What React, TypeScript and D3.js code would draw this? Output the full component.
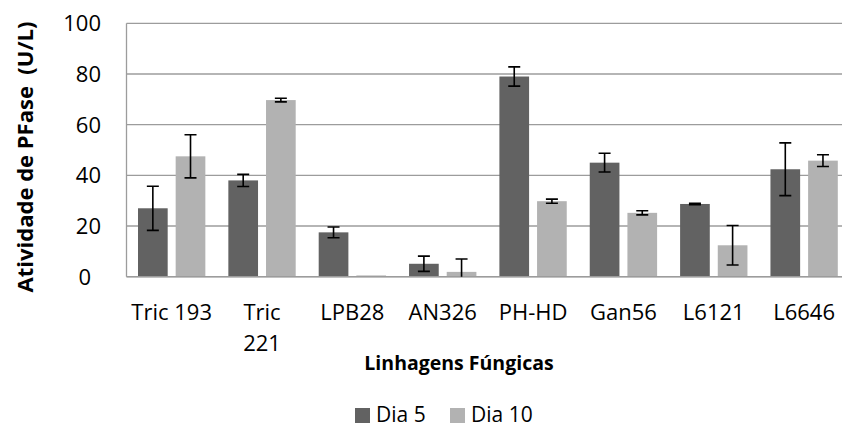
import React from "react";
import * as d3 from "d3";

// Fungal strain PFase activity, day 5 vs day 10, mean ± error
const categories = ["Tric 193", "Tric 221", "LPB28", "AN326", "PH-HD", "Gan56", "L6121", "L6646"];
const categoryLines = [["Tric 193"], ["Tric", "221"], ["LPB28"], ["AN326"], ["PH-HD"], ["Gan56"], ["L6121"], ["L6646"]];
const seriesNames = ["Dia 5", "Dia 10"];
const dia5 = [27, 38, 17.5, 5.1, 79, 45, 28.7, 42.4];
const dia5Err = [8.7, 2.4, 2.1, 3, 3.8, 3.7, 0.3, 10.4];
const dia10 = [47.5, 69.7, 0.5, 1.9, 29.8, 25.2, 12.4, 45.8];
const dia10Err = [8.5, 0.7, 0, 5.1, 0.8, 0.8, 7.8, 2.3];
const yTicks = [0, 20, 40, 60, 80, 100];

const W = 842;
const H = 428;
const plotLeft = 126.5;
const plotRight = 849.3;
const plotTop = 23.3;
const plotBottom = 276.7;
const colors = ["#626262", "#b2b2b2"];
const font = "'Open Sans', sans-serif";

export default function App() {
  const x0 = d3.scaleBand<string>().domain(categories).range([plotLeft, plotRight]);
  const x1 = d3
    .scaleBand<string>()
    .domain(seriesNames)
    .range([11.5, x0.bandwidth() - 11.5])
    .paddingInner(0.212);
  const y = d3.scaleLinear().domain([0, 100]).range([plotBottom, plotTop]);

  const values = [dia5, dia10];
  const errors = [dia5Err, dia10Err];
  const capHalf = 6;

  return (
    <svg
      width={W}
      height={H}
      style={{ position: "absolute", left: 0, top: 0, display: "block", background: "#fff" }}
      fontFamily={font}
    >
      <defs>
        <clipPath id="plotClip">
          <rect x={plotLeft} y={plotTop - 10} width={plotRight - plotLeft} height={plotBottom - plotTop + 10} />
        </clipPath>
      </defs>

      {/* gridlines */}
      {yTicks.map((t) => (
        <line
          key={"g" + t}
          x1={plotLeft}
          x2={plotRight}
          y1={y(t)}
          y2={y(t)}
          stroke="#9c9c9c"
          strokeWidth={1.3}
        />
      ))}
      <line x1={plotLeft} x2={plotLeft} y1={plotTop} y2={plotBottom} stroke="#9c9c9c" strokeWidth={1.3} />

      {/* bars */}
      {values.map((vals, si) =>
        vals.map((v, ci) => (
          <rect
            key={"b" + si + "-" + ci}
            x={(x0(categories[ci]) as number) + (x1(seriesNames[si]) as number)}
            y={y(v)}
            width={x1.bandwidth()}
            height={plotBottom - y(v)}
            fill={colors[si]}
          />
        ))
      )}

      <line x1={plotLeft} x2={plotRight} y1={plotBottom} y2={plotBottom} stroke="#9c9c9c" strokeWidth={1.5} />

      {/* error bars */}
      <g clipPath="url(#plotClip)" stroke="#000" strokeWidth={1.6}>
        {values.map((vals, si) =>
          vals.map((v, ci) => {
            const e = errors[si][ci];
            if (!e) return null;
            const cx = (x0(categories[ci]) as number) + (x1(seriesNames[si]) as number) + x1.bandwidth() / 2;
            const yHi = y(v + e);
            const yLo = y(v - e);
            return (
              <g key={"e" + si + "-" + ci}>
                <line x1={cx} x2={cx} y1={yHi} y2={yLo} />
                <line x1={cx - capHalf} x2={cx + capHalf} y1={yHi} y2={yHi} />
                <line x1={cx - capHalf} x2={cx + capHalf} y1={yLo} y2={yLo} />
              </g>
            );
          })
        )}
      </g>

      {/* y tick labels */}
      {yTicks.map((t) => (
        <text
          key={"yt" + t}
          x={t === 0 ? 91 : 101}
          y={y(t)}
          dy="0.36em"
          textAnchor="end"
          fontSize={22}
          fill="#000"
        >
          {t}
        </text>
      ))}

      {/* category labels */}
      {categories.map((c, ci) => (
        <text
          key={"c" + c}
          x={(x0(c) as number) + x0.bandwidth() / 2}
          y={320}
          textAnchor="middle"
          fontSize={22}
          fill="#000"
        >
          {categoryLines[ci].map((line, li) => (
            <tspan key={li} x={(x0(c) as number) + x0.bandwidth() / 2} dy={li === 0 ? 0 : 31}>
              {line}
            </tspan>
          ))}
        </text>
      ))}

      {/* axis titles */}
      <text
        transform={`translate(33,157) rotate(-90)`}
        textAnchor="middle"
        fontSize={22}
        fontWeight="bold"
        fill="#000"
        style={{ whiteSpace: "pre" }}
      >
        {"Atividade de PFase  (U/L)"}
      </text>
      <text x={459} y={370} textAnchor="middle" fontSize={19.5} fontWeight="bold" fill="#000">
        Linhagens Fúngicas
      </text>

      {/* legend */}
      <rect x={355} y={408} width={15} height={15} fill={colors[0]} />
      <text x={376} y={422} fontSize={21} fill="#000">
        {seriesNames[0]}
      </text>
      <rect x={450} y={408} width={15} height={15} fill={colors[1]} />
      <text x={471} y={422} fontSize={21} fill="#000">
        {seriesNames[1]}
      </text>
    </svg>
  );
}
